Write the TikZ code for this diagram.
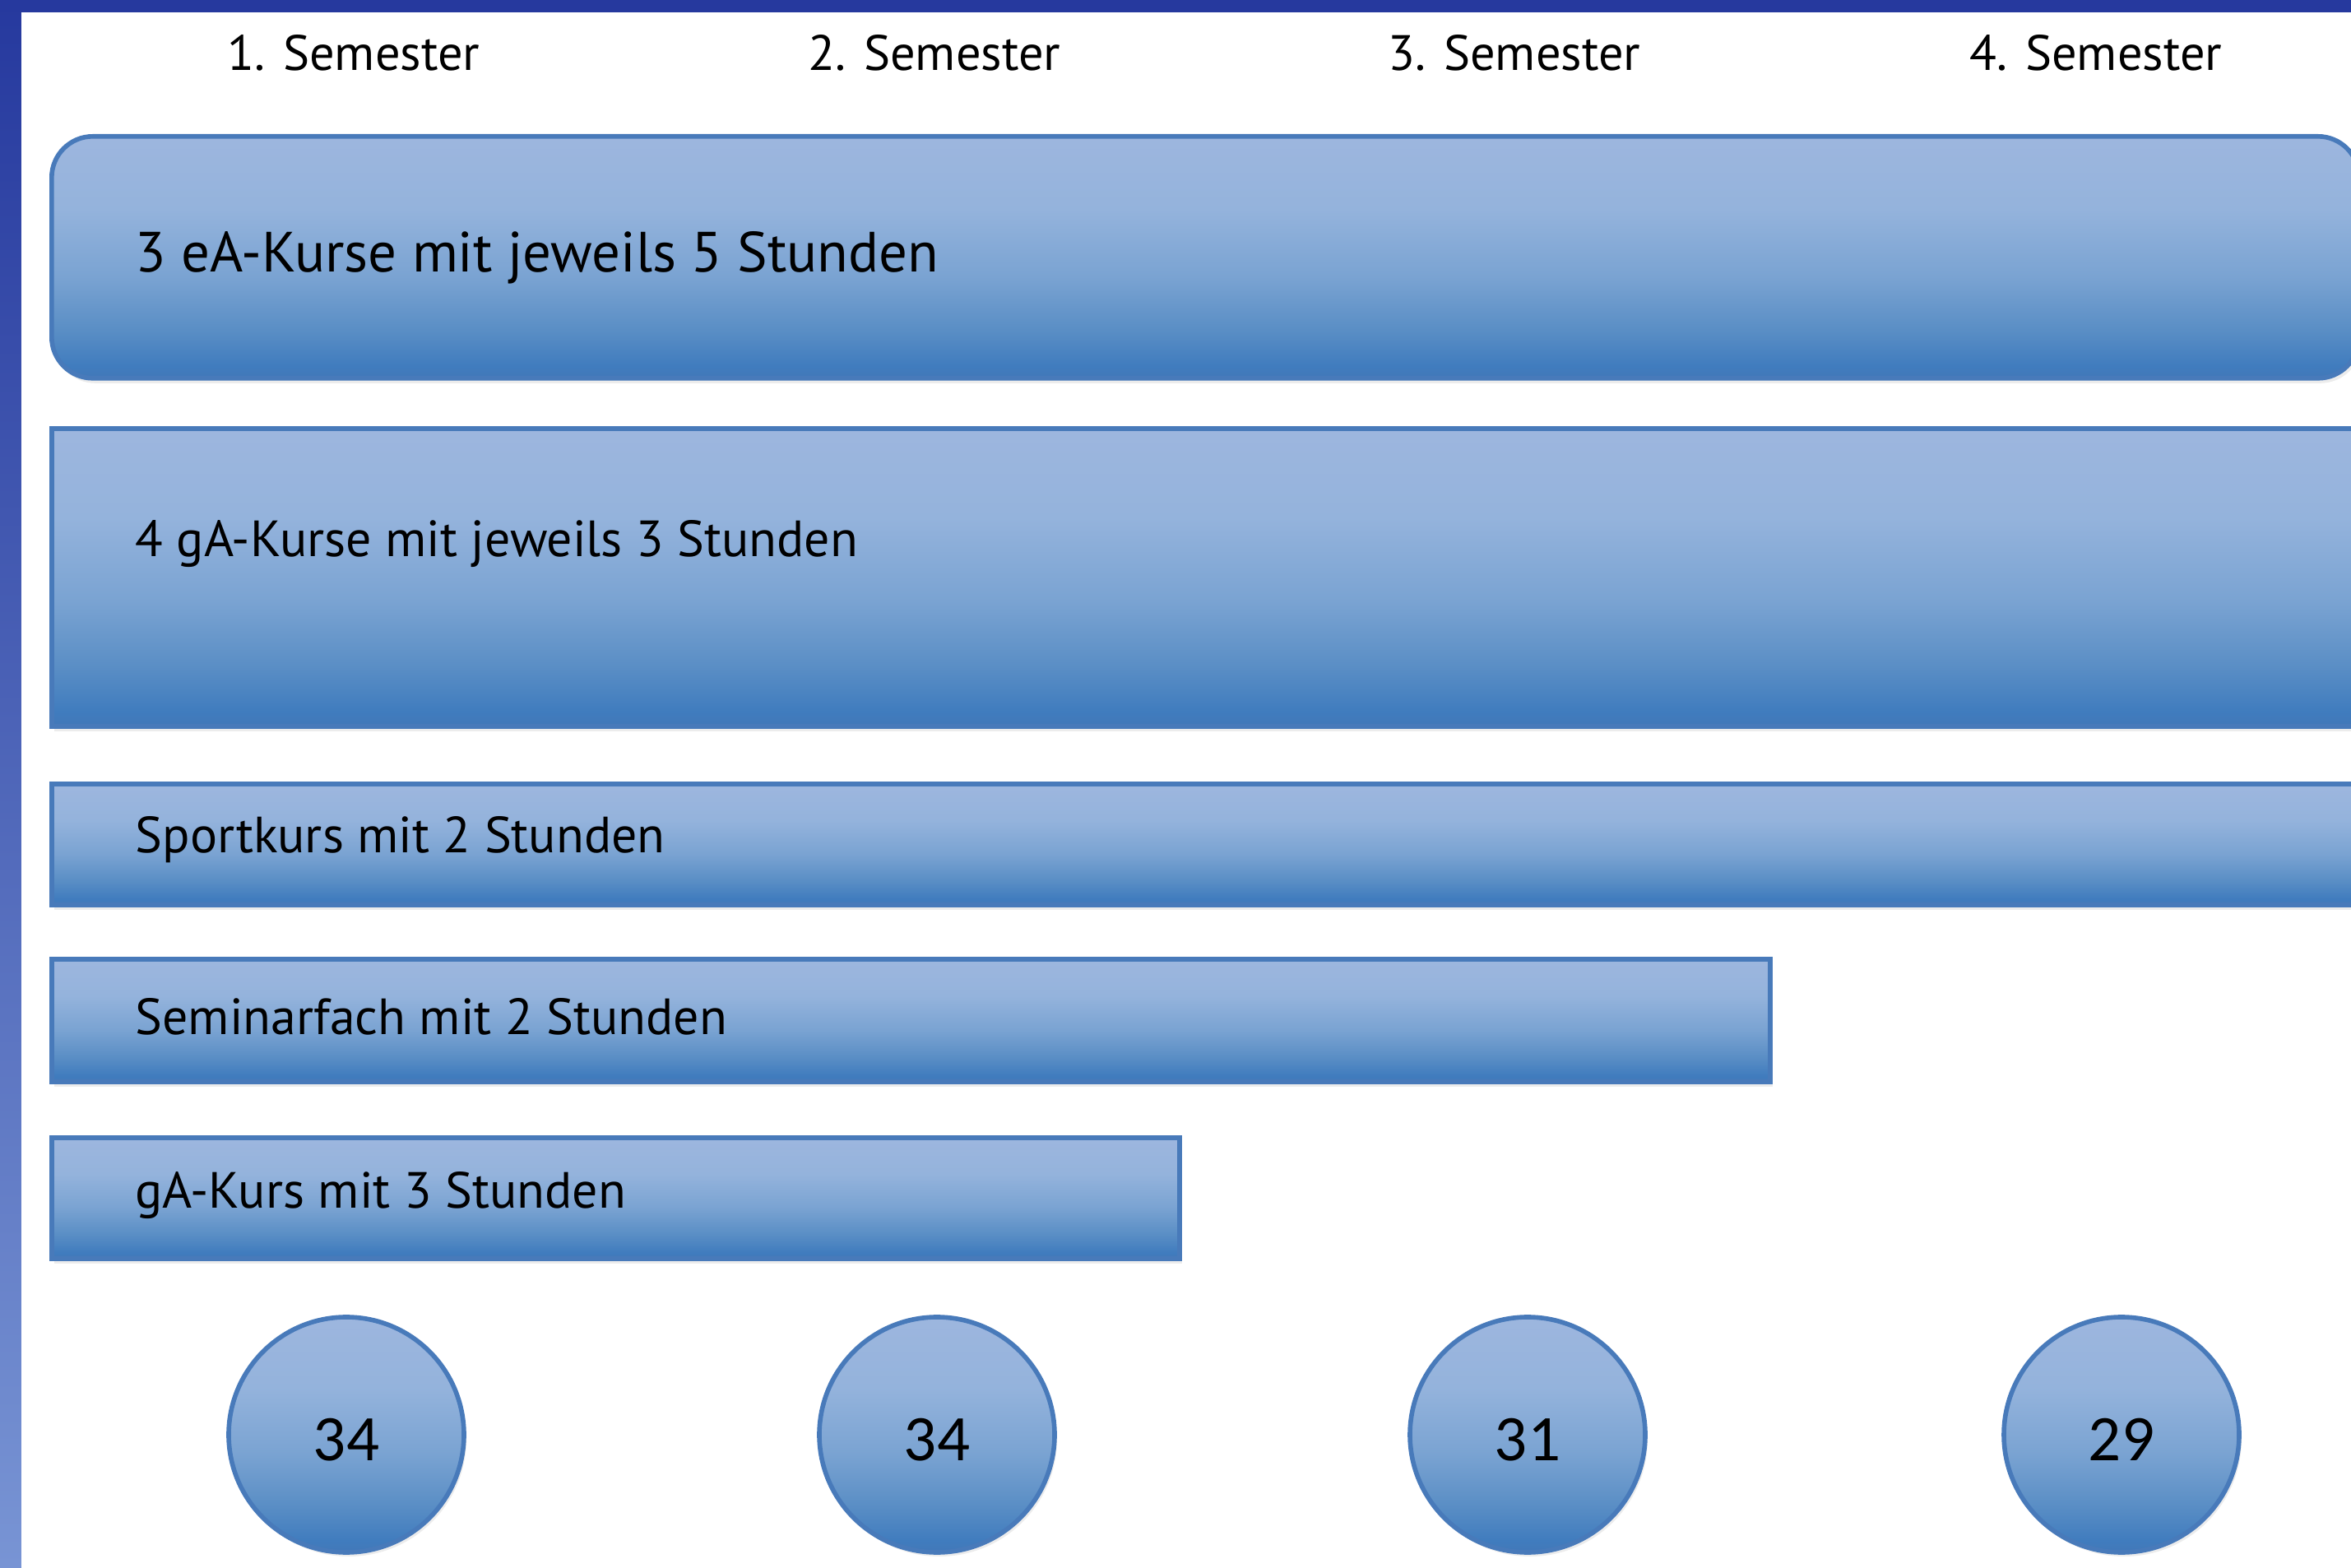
\documentclass[tikz,border=0pt]{standalone}
\usepackage{fontspec}
\setmainfont{PT Sans}
\newfontfamily\numfont{Carlito}
\usetikzlibrary{positioning,shadows}
\definecolor{frameblue}{RGB}{38,57,158}
\definecolor{framelight}{RGB}{120,148,212}
\definecolor{barline}{RGB}{72,122,186}
\pgfdeclareverticalshading{kursfill}{100bp}{%
  color(0bp)=(rgb,255:red,66;green,120;blue,184);
  color(25bp)=(rgb,255:red,66;green,120;blue,184);
  color(27.5bp)=(rgb,255:red,64;green,124;blue,190);
  color(35bp)=(rgb,255:red,90;green,142;blue,197);
  color(46bp)=(rgb,255:red,122;green,163;blue,210);
  color(60bp)=(rgb,255:red,148;green,179;blue,220);
  color(75bp)=(rgb,255:red,157;green,182;blue,222);
  color(100bp)=(rgb,255:red,157;green,182;blue,222)}

\begin{document}
\begin{tikzpicture}[
    kurs/.style={rectangle, draw=barline, line width=1.6pt, shading=kursfill, anchor=north west,
                 inner sep=0pt, drop shadow={opacity=0.15, shadow xshift=0.03, shadow yshift=-0.06}},
    kurstext/.style={anchor=west, inner sep=0pt, font=\fontsize{17.6}{20}\selectfont},
    semhead/.style={inner sep=0pt, font=\fontsize{17.2}{20}\selectfont},
    summe/.style={circle, draw=barline, line width=1.6pt, shading=kursfill, minimum size=2.86cm,
                  inner sep=0pt, text height=18pt, font=\numfont\fontsize{22.5}{24}\selectfont,
                  drop shadow={opacity=0.15, shadow xshift=0.03, shadow yshift=-0.05}}
]
    \useasboundingbox (0,0) rectangle (28.58,19.05);
    \clip (0,0) rectangle (28.58,19.05);

    % frame
    \shade[top color=frameblue, bottom color=framelight] (0,0) rectangle (0.26,19.05);
    \fill[frameblue] (0,18.90) rectangle (28.58,19.05);

    % semesters
    \node[semhead] (sem1) at (4.30,18.41) {1. Semester};
    \node[semhead] (sem2) at (11.36,18.41) {2. Semester};
    \node[semhead] (sem3) at (18.41,18.41) {3. Semester};
    \node[semhead] (sem4) at (25.48,18.41) {4. Semester};

    % courses
    \node[kurs, rounded corners=0.5cm, minimum width=28.05cm, minimum height=2.94cm] (eA) at (0.60,17.42) {};
    \node[kurs, minimum width=29cm, minimum height=3.62cm] (gA) at (0.60,13.87) {};
    \node[kurs, minimum width=29cm, minimum height=1.47cm] (sport) at (0.60,9.55) {};
    \node[kurs, minimum width=20.89cm, minimum height=1.49cm] (seminar) at (0.60,7.42) {};
    \node[kurs, minimum width=13.71cm, minimum height=1.47cm] (gAkurs) at (0.60,5.25) {};

    \node[kurstext, font=\fontsize{19.6}{22}\selectfont] (eAtext) at ([xshift=1.04cm]eA.west) {3 eA-Kurse mit jeweils 5 Stunden};
    \node[kurstext] (gAtext) at ([xshift=1.04cm, yshift=0.41cm]gA.west) {4 gA-Kurse mit jeweils 3 Stunden};
    \node[kurstext] (sporttext) at ([xshift=1.04cm, yshift=0.06cm]sport.west) {Sportkurs mit 2 Stunden};
    \node[kurstext] (seminartext) at ([xshift=1.04cm, yshift=0.04cm]seminar.west) {Seminarfach mit 2 Stunden};
    \node[kurstext] (gAkurstext) at ([xshift=1.04cm, yshift=0.03cm]gAkurs.west) {gA-Kurs mit 3 Stunden};

    % hours per semester
    \node[summe] (sum1) at (4.21,1.61) {34};
    \node[summe] (sum2) at (11.39,1.61) {34};
    \node[summe] (sum3) at (18.57,1.61) {31};
    \node[summe] (sum4) at (25.79,1.61) {29};
\end{tikzpicture}
\end{document}
